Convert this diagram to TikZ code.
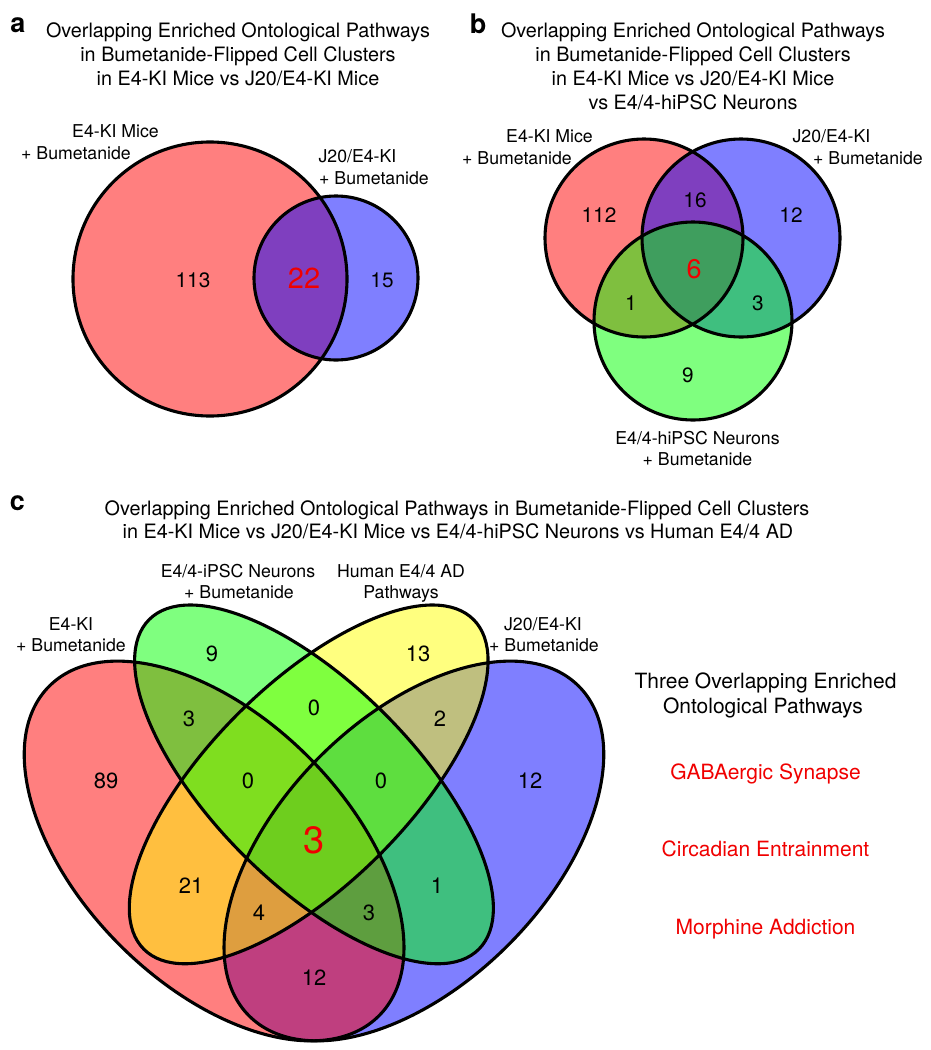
\documentclass[tikz,border=0pt]{standalone}
\usepackage{fontspec}
\setmainfont{TeX Gyre Heros}
\definecolor{vred}{RGB}{255,0,0}
\definecolor{vgreen}{RGB}{0,255,0}
\definecolor{vyellow}{RGB}{255,255,0}
\definecolor{vblue}{RGB}{0,0,255}
\definecolor{hired}{RGB}{240,0,0}
\newcommand{\fsz}[1]{\fontsize{#1}{#1}\selectfont}
\begin{document}
\begin{tikzpicture}[x=1pt,y=-1pt,
 every node/.style={inner sep=0pt, anchor=base},
 ttl/.style={font=\fsz{19.8}},
 lbl/.style={font=\fsz{17.7}},
 num/.style={font=\fsz{20.8}},
 numc/.style={font=\fsz{22}},
 hl/.style={text=hired},
 pnl/.style={font=\bfseries\fsz{27}},
 side/.style={font=\fsz{21}},
 outline/.style={draw=black, line width=3.1pt},
 setfill/.style={fill=#1, fill opacity=0.5}]
\useasboundingbox (0,0) rectangle (930,1050);

% ---------------- panel a ----------------
\node[pnl] (pa) at (18,32) {a};
\node[ttl] (ta1) at (238,37) {Overlapping Enriched Ontological Pathways};
\node[ttl] (ta2) at (238,61) {in Bumetanide-Flipped Cell Clusters};
\node[ttl] (ta3) at (238,85) {in E4-KI Mice vs J20/E4-KI Mice};
\fill[setfill=vred] (210,279) circle [radius=137];
\fill[setfill=vblue] (336,278) circle [radius=82];
\draw[outline] (210,279) circle [radius=137];
\draw[outline] (336,278) circle [radius=82];
\node[lbl] (la1) at (115.5,137) {E4-KI Mice};
\node[lbl] (la2) at (76,159) {+ Bumetanide};
\node[lbl] (la3) at (357.5,162) {J20/E4-KI};
\node[lbl] (la4) at (374,184) {+ Bumetanide};
\node[num] (na1) at (193,287) {113};
\node[font=\fsz{29}, hl] (na2) at (304,288) {22};
\node[num] (na3) at (382,287) {15};

% ---------------- panel b ----------------
\node[pnl] (pb) at (478,33) {b};
\node[ttl] (tb1) at (693,37) {Overlapping Enriched Ontological Pathways};
\node[ttl] (tb2) at (693,61) {in Bumetanide-Flipped Cell Clusters};
\node[ttl] (tb3) at (693,85) {in E4-KI Mice vs J20/E4-KI Mice};
\node[ttl] (tb4) at (693,109) {vs E4/4-hiPSC Neurons};
\fill[setfill=vred] (644,238) circle [radius=99];
\fill[setfill=vblue] (741,238) circle [radius=99];
\fill[setfill=vgreen] (693,321) circle [radius=99];
\draw[outline] (644,238) circle [radius=99];
\draw[outline] (741,238) circle [radius=99];
\draw[outline] (693,321) circle [radius=99];
\node[lbl] (lb1) at (549.5,142) {E4-KI Mice};
\node[lbl] (lb2) at (517,164) {+ Bumetanide};
\node[lbl] (lb3) at (831.5,142) {J20/E4-KI};
\node[lbl] (lb4) at (868,164) {+ Bumetanide};
\node[lbl] (lb5) at (697.5,444) {E4/4-hiPSC Neurons};
\node[lbl] (lb6) at (697.5,465) {+ Bumetanide};
\node[num] (nb1) at (599,222) {112};
\node[num] (nb2) at (695,207) {16};
\node[num] (nb3) at (791,222) {12};
\node[font=\fsz{27}, hl] (nb4) at (694,278) {6};
\node[num] (nb5) at (631,310) {1};
\node[num] (nb6) at (758,310) {3};
\node[num] (nb7) at (688,382) {9};

% ---------------- panel c ----------------
\node[pnl] (pc) at (17.5,510) {c};
\node[ttl] (tc1) at (457,515) {Overlapping Enriched Ontological Pathways in Bumetanide-Flipped Cell Clusters};
\node[ttl] (tc2) at (458,538) {in E4-KI Mice vs J20/E4-KI Mice vs E4/4-hiPSC Neurons vs Human E4/4 AD};

\begin{scope}[shift={(-19pt,-1164pt)}, x=666pt, y=666pt]
 \fill[setfill=vblue, rotate around={45:(0.65,0.47)}] (0.65,0.47) ellipse [x radius=0.35, y radius=0.2];
 \fill[setfill=vred, rotate around={135:(0.35,0.47)}] (0.35,0.47) ellipse [x radius=0.35, y radius=0.2];
 \fill[setfill=vyellow, rotate around={45:(0.492,0.57)}] (0.492,0.57) ellipse [x radius=0.35, y radius=0.15];
 \fill[setfill=vgreen, rotate around={135:(0.5,0.57)}] (0.5,0.57) ellipse [x radius=0.35, y radius=0.15];
 \draw[outline, rotate around={45:(0.65,0.47)}] (0.65,0.47) ellipse [x radius=0.35, y radius=0.2];
 \draw[outline, rotate around={135:(0.35,0.47)}] (0.35,0.47) ellipse [x radius=0.35, y radius=0.2];
 \draw[outline, rotate around={45:(0.492,0.57)}] (0.492,0.57) ellipse [x radius=0.35, y radius=0.15];
 \draw[outline, rotate around={135:(0.5,0.57)}] (0.5,0.57) ellipse [x radius=0.35, y radius=0.15];
\end{scope}

\node[lbl] (lc1) at (238,577) {E4/4-iPSC Neurons};
\node[lbl] (lc2) at (239,598) {+ Bumetanide};
\node[lbl] (lc3) at (401,577) {Human E4/4 AD};
\node[lbl] (lc4) at (401,598) {Pathways};
\node[lbl] (lc5) at (71,630) {E4-KI};
\node[lbl] (lc6) at (71,651) {+ Bumetanide};
\node[lbl] (lc7) at (543,630) {J20/E4-KI};
\node[lbl] (lc8) at (544,651) {+ Bumetanide};

\node[numc] (nc1) at (212,661) {9};
\node[numc] (nc2) at (418,661) {13};
\node[numc] (nc3) at (189,726) {3};
\node[numc] (nc4) at (314,715) {0};
\node[numc] (nc5) at (440,726) {2};
\node[numc] (nc6) at (106,788) {89};
\node[numc] (nc7) at (248,788) {0};
\node[numc] (nc8) at (381,788) {0};
\node[numc] (nc9) at (530,788) {12};
\node[font=\fsz{38}, hl] (nc10) at (314,853) {3};
\node[numc] (nc11) at (191,893) {21};
\node[numc] (nc12) at (437,893) {1};
\node[numc] (nc13) at (259,920) {4};
\node[numc] (nc14) at (369,920) {3};
\node[numc] (nc15) at (314,985) {12};

\node[side] (s1) at (765.5,688) {Three Overlapping Enriched};
\node[side] (s2) at (763,713) {Ontological Pathways};
\node[side, hl] (s3) at (765.5,779) {GABAergic Synapse};
\node[side, hl] (s4) at (765.5,856) {Circadian Entrainment};
\node[side, hl] (s5) at (765.5,934) {Morphine Addiction};
\end{tikzpicture}
\end{document}
